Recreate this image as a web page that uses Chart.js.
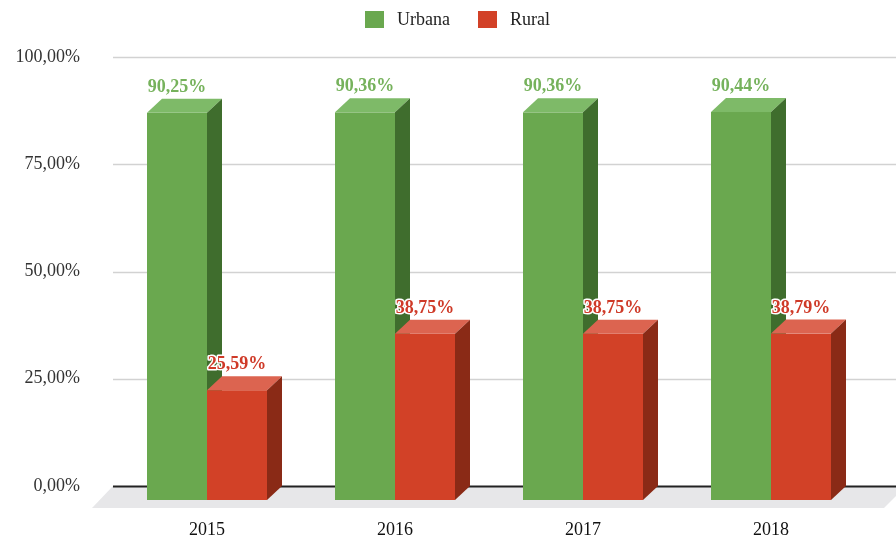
<!DOCTYPE html>
<html>
<head>
<meta charset="utf-8">
<script src="https://cdn.jsdelivr.net/npm/chart.js@4/dist/chart.umd.min.js"></script>
<style>
  html, body { margin: 0; padding: 0; background: #fff; }
  #wrap { width: 896px; height: 539px; }
</style>
</head>
<body>
<div id="wrap"><canvas id="chart" width="896" height="539"></canvas></div>
<script>
const years = ['2015', '2016', '2017', '2018'];
const urbana = [90.25, 90.36, 90.36, 90.44];
const rural = [25.59, 38.75, 38.75, 38.79];
const yTicks = [0, 25, 50, 75, 100];

const FONT = '"Liberation Serif", "DejaVu Serif", serif';
const fmt = (v) => v.toFixed(2).replace('.', ',') + '%';

// face colours for the pseudo-3D boxes: front / top / side
const faces = [
  { front: '#6aa84f', top: '#7eba68', side: '#3f6d2d', text: '#76b25c' },
  { front: '#d24127', top: '#dc6450', side: '#8a2a16', text: '#cf3a28' }
];
const DEPTH = { dx: 15, dy: 14 };

const box3d = {
  id: 'box3d',
  beforeDatasetsDraw: (chart) => {
    const { ctx, chartArea: area, scales: { y } } = chart;
    const zero = y.getPixelForValue(0);

    // floor
    ctx.save();
    ctx.fillStyle = '#e7e7e9';
    ctx.beginPath();
    ctx.moveTo(area.left, zero);
    ctx.lineTo(chart.width + 10, zero);
    ctx.lineTo(chart.width - 12, zero + 22);
    ctx.lineTo(area.left - 21, zero + 22);
    ctx.closePath();
    ctx.fill();

    // grid lines on the back wall
    yTicks.forEach(v => {
      const py = Math.round(y.getPixelForValue(v)) + 0.5;
      ctx.strokeStyle = v === 0 ? '#222' : '#d2d2d2';
      ctx.lineWidth = v === 0 ? 2 : 1.5;
      ctx.beginPath();
      ctx.moveTo(area.left, py);
      ctx.lineTo(chart.width, py);
      ctx.stroke();
    });

    // boxes: all of dataset 0 first, then dataset 1 on top
    chart.data.datasets.forEach((ds, di) => {
      const c = faces[di];
      chart.getDatasetMeta(di).data.forEach(el => {
        const { x, y: top, base, width } = el.getProps(['x', 'y', 'base', 'width']);
        const L = x - width / 2, R = x + width / 2;
        const T = top + DEPTH.dy, B = base + DEPTH.dy;
        const { dx, dy } = DEPTH;

        ctx.fillStyle = c.front;
        ctx.fillRect(L, T, R - L, B - T);

        ctx.fillStyle = c.top;
        ctx.beginPath();
        ctx.moveTo(L, T); ctx.lineTo(L + dx, T - dy); ctx.lineTo(R + dx, T - dy); ctx.lineTo(R, T);
        ctx.closePath(); ctx.fill();

        ctx.fillStyle = c.side;
        ctx.beginPath();
        ctx.moveTo(R, T); ctx.lineTo(R + dx, T - dy); ctx.lineTo(R + dx, B - dy); ctx.lineTo(R, B);
        ctx.closePath(); ctx.fill();
      });
    });
    ctx.restore();
    return false;
  },

  afterDraw: (chart) => {
    const { ctx } = chart;
    ctx.save();

    // value labels
    ctx.font = `bold 18px ${FONT}`;
    ctx.textAlign = 'center';
    ctx.textBaseline = 'alphabetic';
    ctx.lineJoin = 'round';
    chart.data.datasets.forEach((ds, di) => {
      chart.getDatasetMeta(di).data.forEach((el, i) => {
        const txt = fmt(ds.data[i]);
        const ty = el.y - 7;
        ctx.strokeStyle = '#fff';
        ctx.lineWidth = 3;
        ctx.strokeText(txt, el.x, ty);
        ctx.fillStyle = faces[di].text;
        ctx.fillText(txt, el.x, ty);
      });
    });

    // legend
    ctx.font = `18px ${FONT}`;
    ctx.textAlign = 'left';
    ctx.textBaseline = 'middle';
    const legend = [{ bx: 365, tx: 397 }, { bx: 478, tx: 510 }];
    chart.data.datasets.forEach((ds, di) => {
      ctx.fillStyle = faces[di].front;
      ctx.fillRect(legend[di].bx, 11, 19, 17);
      ctx.fillStyle = '#222';
      ctx.fillText(ds.label, legend[di].tx, 20);
    });
    ctx.restore();
  }
};

new Chart(document.getElementById('chart'), {
  type: 'bar',
  data: {
    labels: years,
    datasets: [
      { label: 'Urbana', data: urbana, backgroundColor: faces[0].front },
      { label: 'Rural', data: rural, backgroundColor: faces[1].front }
    ]
  },
  options: {
    responsive: false,
    animation: false,
    layout: { padding: { top: 57, right: 31, bottom: 0, left: 0 } },
    datasets: { bar: { categoryPercentage: 120 / 188, barPercentage: 1 } },
    plugins: { legend: { display: false }, tooltip: { enabled: false } },
    scales: {
      x: {
        afterFit: (scale) => { scale.height = 53; },
        grid: { display: false, drawTicks: false },
        border: { display: false },
        ticks: { padding: 33, color: '#111', font: { family: FONT, size: 18 } }
      },
      y: {
        min: 0,
        max: 100,
        afterFit: (scale) => { scale.width = 113; },
        afterBuildTicks: (scale) => { scale.ticks = yTicks.map(v => ({ value: v })); },
        grid: { display: false, drawTicks: false },
        border: { display: false },
        ticks: { padding: 33, color: '#333', font: { family: FONT, size: 18 }, callback: (v) => fmt(v) }
      }
    }
  },
  plugins: [box3d]
});
</script>
</body>
</html>
